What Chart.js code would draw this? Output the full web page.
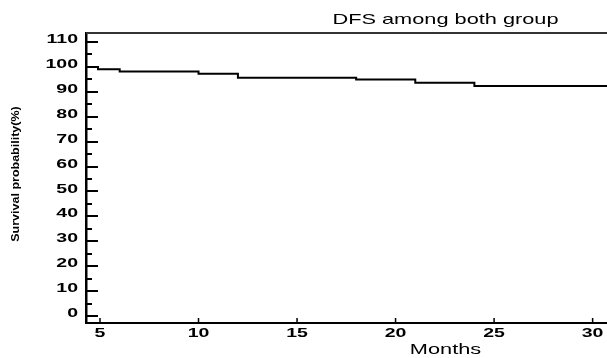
<!DOCTYPE html>
<html>
<head>
<meta charset="utf-8">
<script src="https://cdn.jsdelivr.net/npm/chart.js@4"></script>
<style>
    html, body { margin: 0; padding: 0; background: #fff; }
    #wrap { width: 607px; height: 358px; position: relative; }
</style>
</head>
<body>
<div id="wrap"><canvas id="dfs-chart"></canvas></div>
<script>
// Kaplan-Meier style DFS curve
const months = [0, 4.9, 6, 10, 12, 18, 21, 24, 31];
const survival = [100, 99.1, 98.1, 97.2, 95.6, 94.9, 93.6, 92.3, 92.3];

const xTickValues = [5, 10, 15, 20, 25, 30];
const yTickLabels = ["0", "10", "20", "30", "40", "50", "60", "70", "80", "90", "100", "110"];

const chartTitle = "DFS among both group";
const xTitle = "Months";
const yTitle = "Survival probability(%)";

const FONT = "'Liberation Sans', Arial, sans-serif";

// text in the original is stretched sideways, draw it that way
function stretchedText(ctx, text, x, y, font, sx, align, rotate) {
    ctx.save();
    ctx.font = font + " " + FONT;
    ctx.fillStyle = "#000";
    ctx.textAlign = align;
    ctx.textBaseline = "middle";
    ctx.translate(x, y);
    if (rotate) ctx.rotate(rotate);
    ctx.scale(sx, 1);
    ctx.fillText(text, 0, 0);
    ctx.restore();
}

const axisDecor = {
    id: "axisDecor",
    afterDatasetsDraw(chart) {
        const ctx = chart.ctx;
        const area = chart.chartArea;
        const xs = chart.scales.x;
        const ys = chart.scales.y;

        // top frame line
        ctx.save();
        ctx.strokeStyle = "#333";
        ctx.lineWidth = 2;
        ctx.beginPath();
        ctx.moveTo(area.left, area.top);
        ctx.lineTo(area.right, area.top);
        ctx.stroke();

        // y ticks pointing inward, longer on the labelled ones
        ctx.strokeStyle = "#000";
        ctx.lineWidth = 2;
        ys.ticks.forEach((t) => {
            const py = Math.round(ys.getPixelForValue(t.value));
            const len = t.value % 10 === 0 ? 12 : 6;
            ctx.beginPath();
            ctx.moveTo(area.left, py);
            ctx.lineTo(area.left + len, py);
            ctx.stroke();
        });

        // x ticks pointing up
        ctx.lineWidth = 1.5;
        xs.ticks.forEach((t) => {
            const px = xs.getPixelForValue(t.value);
            ctx.beginPath();
            ctx.moveTo(px, area.bottom);
            ctx.lineTo(px, area.bottom - 5);
            ctx.stroke();
        });
        ctx.restore();

        // tick labels
        ys.ticks.forEach((t) => {
            if (t.value % 10 !== 0) return;
            const label = String(t.value);
            if (!yTickLabels.includes(label)) return;
            stretchedText(ctx, label, area.left - 8, ys.getPixelForValue(t.value) - 2.5, "bold 13px", 1.5, "right");
        });
        xs.ticks.forEach((t) => {
            if (!xTickValues.includes(t.value)) return;
            stretchedText(ctx, String(t.value), xs.getPixelForValue(t.value), area.bottom + 10, "bold 13px", 1.5, "center");
        });

        // titles
        const cx = area.left + (area.right - area.left) * 0.69;
        stretchedText(ctx, chartTitle, cx, 20, "15px", 1.45, "center");
        stretchedText(ctx, xTitle, cx, 350, "15px", 1.45, "center");
        stretchedText(ctx, yTitle, 16, 174, "bold 10px", 1.25, "center", -Math.PI / 2);
    },
};

const dfsChartConfig = {
    type: "line",
    data: {
        datasets: [
            {
                label: chartTitle,
                data: months.map((m, i) => ({ x: m, y: survival[i] })),
                borderColor: "#000",
                borderWidth: 2,
                pointRadius: 0,
                stepped: true,
                fill: false,
            },
        ],
    },
    options: {
        responsive: true,
        maintainAspectRatio: false,
        animation: false,
        layout: { padding: { top: 33, left: 0, right: 0, bottom: 0 } },
        plugins: {
            legend: { display: false },
            tooltip: { enabled: false },
            title: { display: false },
        },
        scales: {
            x: {
                type: "linear",
                min: 4.29,
                max: 30.73,
                ticks: { stepSize: 5, includeBounds: false, display: false },
                grid: { display: true, drawOnChartArea: false, drawTicks: false },
                border: { display: true, color: "#000", width: 2 },
                afterFit: (scale) => { scale.height = 35; },
            },
            y: {
                min: -2.8,
                max: 113.6,
                ticks: { stepSize: 5, includeBounds: false, display: false },
                grid: { display: true, drawOnChartArea: false, drawTicks: false },
                border: { display: true, color: "#000", width: 2.5 },
                afterFit: (scale) => { scale.width = 86; },
            },
        },
    },
    plugins: [axisDecor],
};

new Chart(document.getElementById("dfs-chart"), dfsChartConfig);
</script>
</body>
</html>
